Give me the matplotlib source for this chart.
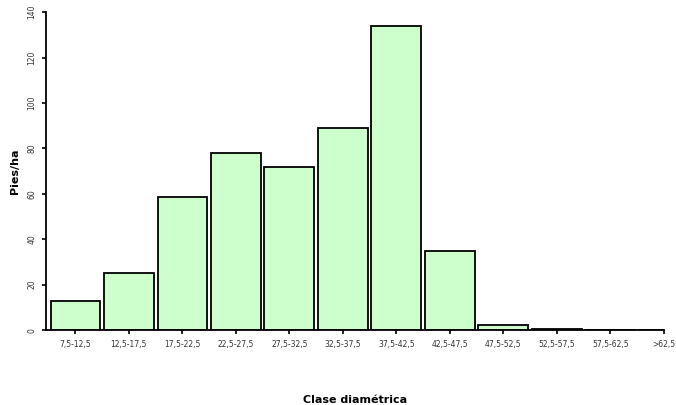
import matplotlib.pyplot as plt

clases = ["7,5-12,5", "12,5-17,5", "17,5-22,5", "22,5-27,5", "27,5-32,5",
          "32,5-37,5", "37,5-42,5", "42,5-47,5", "47,5-52,5", "52,5-57,5",
          "57,5-62,5", ">62,5"]
pies_ha = [13, 25, 58.5, 78, 72, 89, 134, 35, 2.2, 0.5, 0, 0]

fig = plt.figure(figsize=(6.76, 4.05), dpi=100)
ax = fig.add_axes([0.068, 0.185, 0.914, 0.785])

x = list(range(len(clases)))
ax.bar(x, pies_ha, width=0.93, color="#ccffcc", edgecolor="black", linewidth=1.3)

ax.set_xlim(-0.55, 11)
ax.set_ylim(0, 140)
ax.set_yticks(range(0, 141, 20))
ax.set_xticks(x)
ax.set_xticklabels(clases, fontsize=5.5, color="#333333")
for lab in ax.get_yticklabels():
    lab.set_rotation(90)
    lab.set_fontsize(5.5)
    lab.set_color("#333333")
    lab.set_va("center")

ax.spines["top"].set_visible(False)
ax.spines["right"].set_visible(False)
ax.spines["left"].set_linewidth(1.3)
ax.spines["bottom"].set_linewidth(1.3)
ax.tick_params(axis="both", length=3, width=1.2, pad=4)

ax.set_ylabel("Pies/ha", fontsize=8, fontweight="bold", labelpad=5)
ax.set_xlabel("Clase diamétrica", fontsize=8, fontweight="bold", labelpad=33)

fig.savefig("out.png", dpi=100)
